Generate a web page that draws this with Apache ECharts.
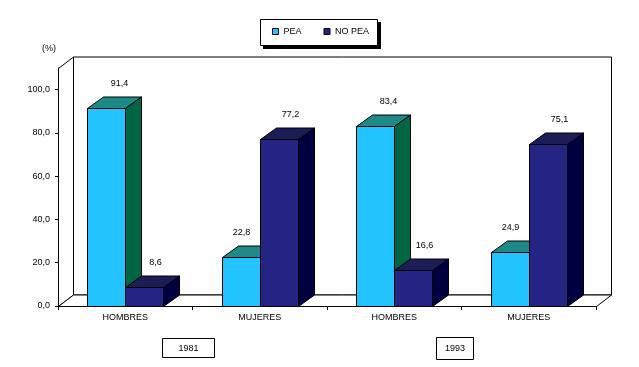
<!DOCTYPE html>
<html><head><meta charset="utf-8">
<script src="https://cdn.jsdelivr.net/npm/echarts@6/dist/echarts.min.js"></script>
<style>html,body{margin:0;padding:0;background:#fff}#c{width:639px;height:367px}</style>
</head><body><div id="c"></div>
<script>
const categories = ['HOMBRES', 'MUJERES', 'HOMBRES', 'MUJERES'];
const peaValues = [91.4, 22.8, 83.4, 24.9];
const noPeaValues = [8.6, 77.2, 16.6, 75.1];
const yTicks = [0, 20, 40, 60, 80, 100];
const years = ['1981', '1993'];
const seriesNames = ['PEA', 'NO PEA'];

const FONT = '"Liberation Sans", Arial, sans-serif';
const DX = 16, DY = -11.5;
const WX = 15, WY = -11.5;
const r = v => Math.round(v) + 0.5;
function fmt(v) { return v.toFixed(1).replace('.', ','); }

function barGeom(side, api) {
  const cat = api.value(0), val = api.value(1);
  const base = api.coord([cat, 0]);
  const top = api.coord([cat, val]);
  const w = api.size([1, 0])[0] * 0.283;
  const xs = side === 0 ? base[0] - w : base[0];
  return { cat: cat, x0: r(xs), x1: r(xs + w), yT: r(top[1]), yB: r(base[1]), val: val };
}

function barRenderer(side, colors) {
  return function (params, api) {
    const g = barGeom(side, api);
    const { x0, x1, yT, yB } = g;
    const st = { stroke: '#000', lineWidth: 1 };
    return { type: 'group', children: [
      { type: 'polygon', shape: { points: [[x0, yT], [x0 + DX, yT + DY], [x1 + DX, yT + DY], [x1, yT]] }, style: Object.assign({ fill: colors.top }, st) },
      { type: 'polygon', shape: { points: [[x1, yT], [x1 + DX, yT + DY], [x1 + DX, yB + DY], [x1, yB]] }, style: Object.assign({ fill: colors.side }, st) },
      { type: 'rect', shape: { x: x0, y: yT, width: x1 - x0, height: yB - yT }, style: Object.assign({ fill: colors.front }, st) }
    ] };
  };
}

function labelRenderer(side) {
  return function (params, api) {
    const g = barGeom(side, api);
    let shift;
    if (side === 0) {
      shift = noPeaValues[g.cat] > g.val ? 0 : 13;
    } else {
      shift = 11;
    }
    return { type: 'text', style: { text: fmt(g.val), x: (g.x0 + g.x1) / 2 + shift, y: g.yT + DY - 13, align: 'center', verticalAlign: 'middle', font: '9px ' + FONT, fill: '#000' } };
  };
}

function wallRenderer(params, api) {
  const cs = params.coordSys;
  const L = r(cs.x), R = r(cs.x + cs.width), T = r(cs.y), B = r(cs.y + cs.height);
  const st = { stroke: '#000', lineWidth: 1, fill: '#fff' };
  return { type: 'group', children: [
    { type: 'polygon', shape: { points: [[L + WX, T + WY], [R + WX, T + WY], [R + WX, B + WY], [L + WX, B + WY]] }, style: st },
    { type: 'polygon', shape: { points: [[L, T], [L + WX, T + WY], [L + WX, B + WY], [L, B]] }, style: st },
    { type: 'polygon', shape: { points: [[L, B], [L + WX, B + WY], [R + WX, B + WY], [R, B]] }, style: st }
  ] };
}

const peaColors = { front: '#22C3FF', top: '#1E8A88', side: '#006644' };
const noPeaColors = { front: '#242482', top: '#1C1C56', side: '#000040' };

const chart = echarts.init(document.getElementById('c'));
chart.setOption({
  animation: false,
  backgroundColor: '#fff',
  grid: { left: 58, right: 43, top: 68, bottom: 61 },
  legend: {
    data: seriesNames, left: 260, top: 19, padding: [8, 18, 8, 12], itemGap: 22, z: 20,
    itemWidth: 6, itemHeight: 6, icon: 'rect',
    textStyle: { fontSize: 9, fontFamily: FONT, color: '#000' },
    itemStyle: { borderColor: '#000', borderWidth: 1 }
  },
  xAxis: {
    type: 'category', data: categories, boundaryGap: true,
    axisLine: { show: true, lineStyle: { color: '#000', width: 1 } },
    axisTick: { show: true, interval: 0, length: 4, lineStyle: { color: '#000' } },
    axisLabel: { interval: 0, margin: 7, fontSize: 9, fontFamily: FONT, color: '#000' },
    splitLine: { show: false }
  },
  yAxis: {
    type: 'value', min: 0, max: 110, interval: 10,
    axisLine: { show: true, lineStyle: { color: '#000', width: 1 } },
    axisTick: { show: true, length: 3, customValues: yTicks, lineStyle: { color: '#000' } },
    axisLabel: { customValues: yTicks, margin: 8, fontSize: 9, fontFamily: FONT, color: '#000', formatter: v => fmt(v) },
    splitLine: { show: false }
  },
  graphic: [
    { type: 'rect', z: 0, shape: { x: 263, y: 22, width: 118, height: 27 }, style: { fill: '#000' } },
    { type: 'rect', z: 1, shape: { x: 260.5, y: 19.5, width: 117, height: 26 }, style: { fill: '#fff', stroke: '#000', lineWidth: 1 } },
    { type: 'text', left: 42, top: 44, style: { text: '(%)', font: '9px ' + FONT, fill: '#000' } },
    { type: 'group', left: 162, top: 338, children: [
      { type: 'rect', shape: { x: 0.5, y: 0.5, width: 52, height: 19 }, style: { fill: '#fff', stroke: '#000', lineWidth: 1 } },
      { type: 'text', style: { text: years[0], x: 26.5, y: 10.5, align: 'center', verticalAlign: 'middle', font: '9px ' + FONT, fill: '#000' } }
    ] },
    { type: 'group', left: 436, top: 337, children: [
      { type: 'rect', shape: { x: 0.5, y: 0.5, width: 37, height: 22 }, style: { fill: '#fff', stroke: '#000', lineWidth: 1 } },
      { type: 'text', style: { text: years[1], x: 19, y: 12, align: 'center', verticalAlign: 'middle', font: '9px ' + FONT, fill: '#000' } }
    ] }
  ],
  series: [
    { type: 'custom', name: '_walls', silent: true, z: 1, renderItem: wallRenderer, data: [[0, 0]] },
    { type: 'custom', name: seriesNames[0], z: 3, renderItem: barRenderer(0, peaColors), itemStyle: { color: peaColors.front },
      data: peaValues.map((v, i) => [i, v]) },
    { type: 'custom', name: seriesNames[1], z: 4, renderItem: barRenderer(1, noPeaColors), itemStyle: { color: noPeaColors.front },
      data: noPeaValues.map((v, i) => [i, v]) },
    { type: 'custom', name: '_pealabels', silent: true, z: 6, renderItem: labelRenderer(0),
      data: peaValues.map((v, i) => [i, v]) },
    { type: 'custom', name: '_nopealabels', silent: true, z: 6, renderItem: labelRenderer(1),
      data: noPeaValues.map((v, i) => [i, v]) }
  ]
});
</script></body></html>
